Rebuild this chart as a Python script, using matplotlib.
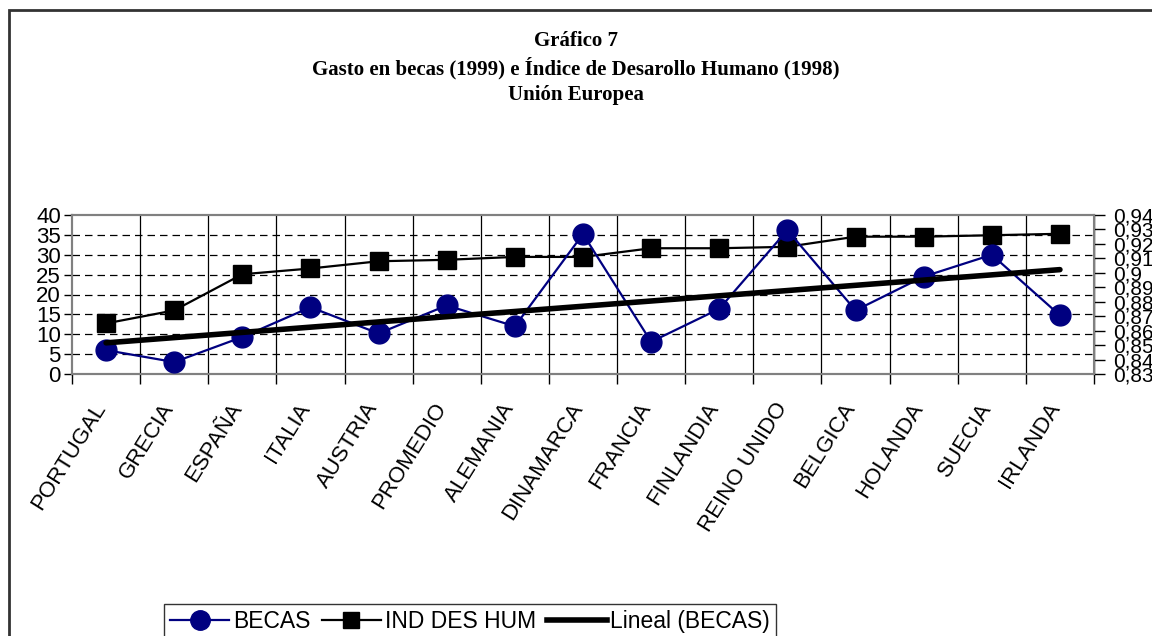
import numpy as np
import matplotlib
matplotlib.use("Agg")
import matplotlib.pyplot as plt
from matplotlib.patches import Rectangle
from matplotlib.ticker import FuncFormatter
from matplotlib.lines import Line2D

categories = ["PORTUGAL", "GRECIA", "ESPAÑA", "ITALIA", "AUSTRIA", "PROMEDIO",
              "ALEMANIA", "DINAMARCA", "FRANCIA", "FINLANDIA", "REINO UNIDO",
              "BELGICA", "HOLANDA", "SUECIA", "IRLANDA"]
becas = [6.0, 3.0, 9.3, 16.8, 10.2, 17.25, 12.0, 35.2, 8.1, 16.4, 36.2,
         16.0, 24.5, 30.0, 14.75]
idh = [0.865, 0.874, 0.899, 0.903, 0.908, 0.909, 0.911, 0.911, 0.917, 0.917,
       0.918, 0.925, 0.925, 0.926, 0.927]
left_ticks = [0, 5, 10, 15, 20, 25, 30, 35, 40]
right_ticks = [0.83, 0.84, 0.85, 0.86, 0.87, 0.88, 0.89, 0.90, 0.91, 0.92, 0.93, 0.94]
title_lines = ["Gráfico 7",
               "Gasto en becas (1999) e Índice de Desarollo Humano (1998)",
               "Unión Europea"]

plt.rcParams['font.family'] = ['Liberation Sans', 'DejaVu Sans']

W, H = 1152, 636
fig = plt.figure(figsize=(W / 100, H / 100), dpi=100)

# outer chart border (top and left visible)
fig.patches.append(Rectangle((9 / W, -0.1), 1.2, 1 - 10 / H + 0.1,
                             transform=fig.transFigure, fill=False,
                             edgecolor='#333333', linewidth=2))

x0, x1, ytop, ybot = 72, 1094, 215, 374
ax = fig.add_axes([x0 / W, 1 - ybot / H, (x1 - x0) / W, (ybot - ytop) / H])
ax2 = ax.twinx()

x = np.arange(len(categories))
ax.set_xlim(-0.5, len(categories) - 0.5)
ax.set_ylim(0, 40)
ax2.set_ylim(0.83, 0.94)

# grid lines
for b in np.arange(0.5, len(categories) - 0.5, 1):
    ax.axvline(b, color='black', linewidth=0.9, zorder=1)
for t in left_ticks[1:-1]:
    ax.axhline(t, color='black', linewidth=0.9, linestyle=(0, (6, 4)), zorder=1)

# series
ax2.plot(x, idh, color='black', linewidth=1.6, marker='s', markersize=13,
         zorder=3)
ax.plot(x, becas, color='#000080', linewidth=1.6, marker='o', markersize=15,
        markerfacecolor='#000080', markeredgecolor='#000080', zorder=3)
coef = np.polyfit(x, becas, 1)
ax.plot(x, np.polyval(coef, x), color='black', linewidth=4,
        solid_capstyle='round', zorder=4)
ax.set_zorder(ax2.get_zorder() + 1)
ax.patch.set_visible(False)

# ticks
ax.set_yticks(left_ticks)
ax.tick_params(axis='y', direction='out', length=6, width=1, labelsize=16, pad=2)
ax.set_xticks(np.arange(-0.5, len(categories), 1), minor=False)
ax.set_xticklabels([])
ax.tick_params(axis='x', which='major', direction='out', length=7, width=1)
ax.set_xticks(x, minor=True)
ax.set_xticklabels(categories, minor=True, rotation=58, ha='right',
                   va='baseline', rotation_mode='anchor', fontsize=16)
ax.tick_params(axis='x', which='minor', length=0, pad=24)

ax2.set_yticks(right_ticks)
ax2.yaxis.set_major_formatter(FuncFormatter(
    lambda v, p: ('%.2f' % v).rstrip('0').replace('.', ',')))
ax2.tick_params(axis='y', direction='out', length=8, width=1, labelsize=15, pad=6)

for a in (ax, ax2):
    for s in a.spines.values():
        s.set_color('#808080')
        s.set_linewidth(1.5)
ax2.spines['right'].set_color('black')
ax2.spines['right'].set_linewidth(1)

# title
for i, line in enumerate(title_lines):
    fig.text(0.5, 1 - (41 + 27 * i) / H, line, ha='center', va='center',
             fontsize=15, fontweight='bold', family=['Liberation Serif'])

# legend
handles = [
    Line2D([], [], color='#000080', linewidth=1.6, marker='o', markersize=14,
           markerfacecolor='#000080'),
    Line2D([], [], color='black', linewidth=1.6, marker='s', markersize=12),
    Line2D([], [], color='black', linewidth=4),
]
leg = fig.legend(handles, ["BECAS", "IND DES HUM", "Lineal (BECAS)"],
                 loc='upper left', bbox_to_anchor=(164 / W, 1 - 604 / H),
                 ncol=3, fontsize=16.5, frameon=True, fancybox=False,
                 edgecolor='black', handlelength=2.6, handletextpad=0.15,
                 columnspacing=0.5, borderpad=0.25, borderaxespad=0)
leg.get_frame().set_linewidth(1)

fig.savefig("out.png", dpi=100)
